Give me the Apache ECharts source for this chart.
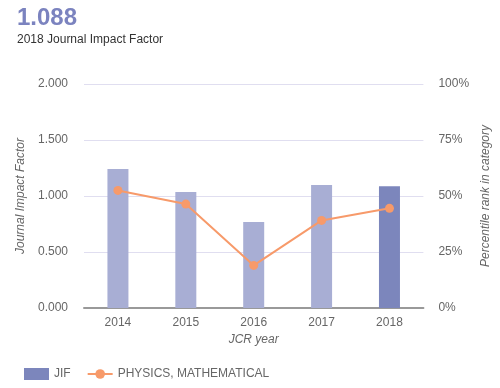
<!DOCTYPE html>
<html><head><meta charset="utf-8">
<script src="https://cdn.jsdelivr.net/npm/echarts@6/dist/echarts.min.js"></script>
<style>html,body{margin:0;padding:0;background:#fff;overflow:hidden}#c{width:500px;height:388px}</style>
</head><body><div id="c"></div>
<script>
var years = ['2014','2015','2016','2017','2018'];
var jif = [1.241, 1.036, 0.768, 1.098, 1.088];
var percentile = [52.5, 46.4, 19.0, 39.1, 44.5];
var leftTicks = [0, 0.5, 1.0, 1.5, 2.0];
var rightTicks = [0, 25, 50, 75, 100];

var chart = echarts.init(document.getElementById('c'));
var light = '#a8aed4', dark = '#7c86bc', orange = '#f79a6a';
chart.setOption({
  animation: false,
  textStyle: {fontFamily: 'Arial, "Liberation Sans", sans-serif'},
  title: [
    {text: '1.088', left: 17, top: 6, padding: 0, textStyle: {fontSize: 24, fontWeight: 'bold', color: '#7b83bf'}},
    {text: '2018 Journal Impact Factor', left: 17, top: 34, padding: 0, textStyle: {fontSize: 12, fontWeight: 'normal', color: '#333'}}
  ],
  grid: {left: 84, right: 73, top: 84, bottom: 80},
  legend: {
    left: 24, top: 368, padding: 0, itemGap: 16, itemWidth: 25, itemHeight: 12,
    textStyle: {fontSize: 12, color: '#666'},
    data: [
      {name: 'JIF', icon: 'rect', itemStyle: {color: dark}},
      {name: 'PHYSICS, MATHEMATICAL'}
    ]
  },
  xAxis: {
    type: 'category', data: years,
    name: 'JCR year', nameLocation: 'middle', nameGap: 26,
    nameTextStyle: {fontStyle: 'italic', color: '#666', fontSize: 12},
    axisLine: {lineStyle: {color: '#999', width: 2}},
    axisTick: {alignWithLabel: true, length: 4, lineStyle: {color: '#555', width: 2}},
    axisLabel: {color: '#666', fontSize: 12, margin: 9}
  },
  yAxis: [
    {
      type: 'value', min: 0, max: 2, interval: 0.5,
      name: 'Journal Impact Factor', nameLocation: 'middle', nameGap: 55, nameRotate: 90,
      nameTextStyle: {fontStyle: 'italic', color: '#666', fontSize: 12},
      axisLabel: {color: '#666', fontSize: 12, margin: 16, formatter: function(v){return v.toFixed(3);}},
      axisLine: {show: false}, axisTick: {show: false},
      splitLine: {lineStyle: {color: '#e0def0'}}
    },
    {
      type: 'value', min: 0, max: 100, interval: 25,
      name: 'Percentile rank in category', nameLocation: 'middle', nameGap: 49, nameRotate: 90,
      nameTextStyle: {fontStyle: 'italic', color: '#666', fontSize: 12},
      axisLabel: {color: '#666', fontSize: 12, margin: 15, formatter: '{value}%'},
      axisLine: {show: false}, axisTick: {show: false},
      splitLine: {show: false}
    }
  ],
  series: [
    {
      name: 'JIF', type: 'bar', barWidth: 21, yAxisIndex: 0,
      data: jif.map(function(v, i){ return {value: v, itemStyle: {color: i === jif.length - 1 ? dark : light}}; }),
      itemStyle: {color: dark}
    },
    {
      name: 'PHYSICS, MATHEMATICAL', type: 'line', yAxisIndex: 1,
      data: percentile, symbol: 'circle', symbolSize: 9,
      lineStyle: {color: orange, width: 2}, itemStyle: {color: orange}
    }
  ]
});
</script></body></html>
